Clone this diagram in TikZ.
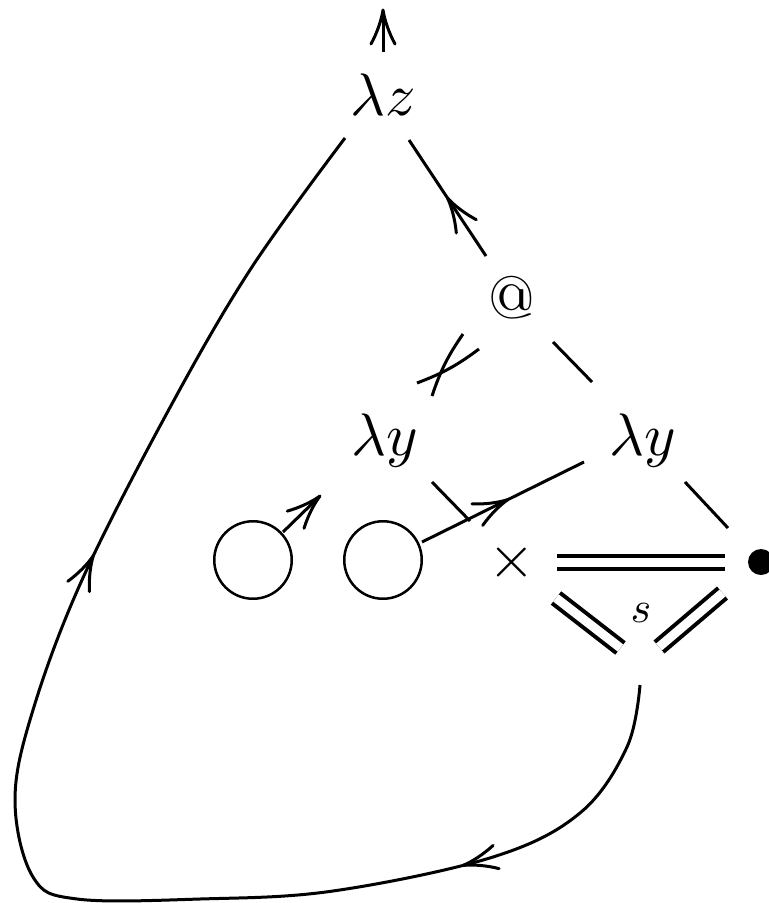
\documentclass[tikz,border=0pt]{standalone}
\usetikzlibrary{arrows.meta,decorations.markings,calc}
\pgfdeclarearrow{
  name = xyto,
  setup code = {
    \pgfarrowssettipend{0pt}
    \pgfarrowssetlineend{-1pt}
    \pgfarrowssetvisualbackend{-34pt}
    \pgfarrowssetbackend{-34pt}
    \pgfarrowshullpoint{0pt}{0pt}
    \pgfarrowsupperhullpoint{-34pt}{12pt}
  },
  drawing code = {
    \pgfsetdash{}{0pt}\pgfsetroundcap\pgfsetroundjoin\pgfsetlinewidth{3pt}
    \pgfpathmoveto{\pgfqpoint{-34pt}{12pt}}
    \pgfpathcurveto{\pgfqpoint{-23pt}{6pt}}{\pgfqpoint{-10pt}{1.5pt}}{\pgfpointorigin}
    \pgfpathcurveto{\pgfqpoint{-10pt}{-1.5pt}}{\pgfqpoint{-23pt}{-6pt}}{\pgfqpoint{-34pt}{-12pt}}
    \pgfusepathqstroke
  }
}
\tikzset{
  edge/.style={line width=3pt},
  dbl/.style={line width=4pt, double, double distance=9pt},
  lbl/.style={inner sep=0pt, scale=6},
  ring/.style={circle, draw, line width=2.5pt, minimum size=77.5pt, inner sep=0pt},
  midarrow/.style={postaction={decorate}, decoration={markings, mark=at position #1 with {\arrow{xyto}}}},
}
\begin{document}
\begin{tikzpicture}[x=1pt,y=-1pt]
\useasboundingbox (0,0) rectangle (769,903);
% nodes
\node[lbl, anchor=base] (lz) at (383,115) {$\lambda z$};
\node[lbl, anchor=base] (at) at (512,318) {@};
\node[lbl, anchor=base] (ly1) at (385,455) {$\lambda y$};
\node[lbl, anchor=base] (ly2) at (643,455) {$\lambda y$};
\node[ring] (o1) at (253,560) {};
\node[ring] (o2) at (383,560) {};
\node[lbl] (cross) at (512,562) {$\times$};
\node[circle, fill, inner sep=0pt, minimum size=26pt] (dot) at (761,562) {};
\coordinate (h) at (640,663);
\node[inner sep=0pt, scale=4.4] (s) at (641,613) {$s$};
% edges
\draw[edge, -{xyto}] ($(lz.base)+(0,-63)$) -- ($(lz.base)+(0,-105)$);
\draw[edge, midarrow=0.5] ($(at.base)+(-26,-62)$) -- ($(lz.base)+(26,25)$);
\draw[edge] ($(at.base)+(-49,16)$) to[bend right=8] ($(at.base)+(-80,78)$);
\draw[edge] ($(at.base)+(-95,65)$) to[bend right=8] ($(at.base)+(-33,31)$);
\draw[edge] ($(at.base)+(41,24)$) -- ($(ly2.base)+(-51,-73)$);
\draw[edge] ($(ly1.base)+(47,27)$) -- ($(cross)+(-42,-41)$);
\draw[edge, midarrow=0.53] ($(o2)+(39,-18)$) -- ($(ly2.base)+(-59,7)$);
\draw[edge, -{xyto}] ($(o1)+(30,-28)$) -- ($(o1)+(67,-64)$);
\draw[edge] ($(ly2.base)+(42,27)$) -- ($(dot)+(-33,-34)$);
\draw[dbl] ($(cross)+(45,0)$) -- ($(dot)+(-36,0)$);
\draw[dbl] ($(cross)+(44,36)$) -- ($(h)+(-19.5,-15)$);
\draw[dbl] ($(dot)+(-38.5,31)$) -- ($(h)+(19,-16)$);
% big loop
\coordinate (cs) at ($(h)+(0,22)$);
\coordinate (ce) at ($(lz.base)+(-38,23)$);
\draw[edge, postaction={decorate}, decoration={markings,
    mark=at position 0.178 with {\arrow{xyto}},
    mark=at position 0.683 with {\arrow{xyto}}}]
  plot[smooth, tension=0.6] coordinates {(cs) (627,747) (580,813) (493,857) (333,891) (200,899) (77,899) (33,877) (15,800) (33,710) (82,580) (167,413) (250,270) (ce)};
\end{tikzpicture}
\end{document}
